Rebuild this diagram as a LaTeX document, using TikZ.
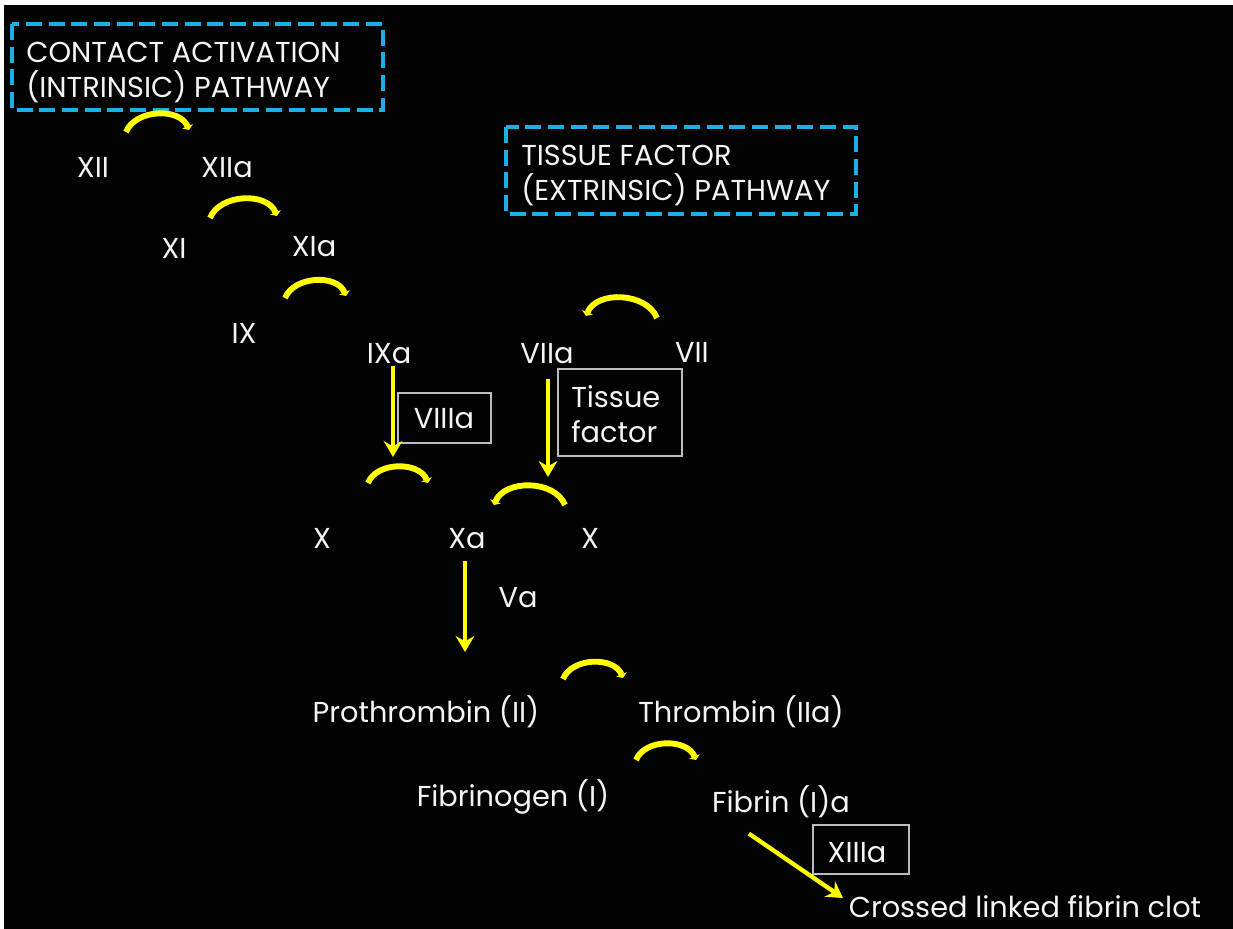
\documentclass[tikz,border=0pt]{standalone}
\usepackage{fontspec}
\setmainfont{Poppins}
\usetikzlibrary{arrows.meta}
\definecolor{bgwhite}{HTML}{FFFFFF}
\definecolor{bgblack}{HTML}{030303}
\definecolor{cyanb}{HTML}{1BB0E6}
\definecolor{yel}{HTML}{FFFF00}
\definecolor{txt}{HTML}{F4F4F4}
\definecolor{gbord}{HTML}{BDBDBD}
\tikzset{
  lbl/.style={text=txt, inner sep=0pt, font=\fontsize{21.6}{26}\selectfont},
  dbox/.style={draw=cyanb, line width=3.6pt, dash pattern=on 12pt off 5pt},
  gbox/.style={draw=gbord, line width=0.9pt},
  yarc/.style={draw=yel, line width=4.4pt, -{Triangle[length=3pt,width=8.5pt]}},
  yarr/.style={draw=yel, line width=3.2pt, -{Stealth[length=12pt,width=14pt,inset=4pt]}},
}
\begin{document}
\begin{tikzpicture}[x=0.75pt,y=-0.75pt]
\fill[bgwhite] (0,0) rectangle (1233,929);
\fill[bgblack] (4,5) rectangle (1233,929);
\useasboundingbox (0,0) rectangle (1233,929);

% dashed pathway boxes
\draw[dbox] (12,24) rectangle (383,110);
\node[lbl, anchor=base west] (ca1) at (26,62) {CONTACT ACTIVATION};
\node[lbl, anchor=base west] (ca2) at (26,97) {(INTRINSIC) PATHWAY};
\draw[dbox] (506,127) rectangle (856,214);
\node[lbl, anchor=base west] (tf1) at (521,165) {TISSUE FACTOR};
\node[lbl, anchor=base west] (tf2) at (521,200) {(EXTRINSIC) PATHWAY};

% factor labels
\node[lbl, anchor=base] (xii) at (93,177) {XII};
\node[lbl, anchor=base] (xiia) at (227,177) {XIIa};
\node[lbl, anchor=base] (xi) at (174,258) {XI};
\node[lbl, anchor=base] (xia) at (314,256) {XIa};
\node[lbl, anchor=base] (ix) at (244,343) {IX};
\node[lbl, anchor=base] (ixa) at (389,363) {IXa};
\node[lbl, anchor=base] (viia) at (547,363) {VIIa};
\node[lbl, anchor=base] (vii) at (692,362) {VII};
\node[lbl, anchor=base] (xl) at (322,548) {X};
\node[lbl, anchor=base] (xa) at (467,548) {Xa};
\node[lbl, anchor=base] (xr) at (590,548) {X};
\node[lbl, anchor=base] (va) at (518,607) {Va};
\node[lbl, anchor=base] (pro) at (426,722) {Prothrombin (II)};
\node[lbl, anchor=base] (thr) at (741,722) {Thrombin (IIa)};
\node[lbl, anchor=base] (fbg) at (513,806) {Fibrinogen (I)};
\node[lbl, anchor=base] (fib) at (781,812) {Fibrin (I)a};
\node[lbl, anchor=base] (clot) at (1025,917) {Crossed linked fibrin clot};

% grey boxes
\draw[gbox] (398,393) rectangle (491,443);
\node[lbl, anchor=base] (viiia) at (444,428) {VIIIa};
\draw[gbox] (558,369) rectangle (682,456);
\node[lbl, anchor=base west] (tis) at (571,407) {Tissue};
\node[lbl, anchor=base west] (fac) at (571,442) {factor};
\draw[gbox] (813,825) rectangle (909,874);
\node[lbl, anchor=base] (xiiia) at (857,862) {XIIIa};

% arc end points
\coordinate (a1s) at (126,132);
\coordinate (a1e) at (189,130);
\coordinate (a2s) at (210,218);
\coordinate (a2e) at (277,216);
\coordinate (a3s) at (285,298);
\coordinate (a3e) at (346,296);
\coordinate (a4s) at (657,318);
\coordinate (a4e) at (586,316);
\coordinate (a5s) at (368,483);
\coordinate (a5e) at (428,483);
\coordinate (a6s) at (565,505);
\coordinate (a6e) at (494,505);
\coordinate (a7s) at (563,679);
\coordinate (a7e) at (623,678);
\coordinate (a8s) at (636,760);
\coordinate (a8e) at (696,760);

\draw[yarc] (a1s) to[out=68,in=112] (a1e);
\draw[yarc] (a2s) to[out=68,in=112] (a2e);
\draw[yarc] (a3s) to[out=68,in=112] (a3e);
\draw[yarc] (a4s) to[out=112,in=68] (a4e);
\draw[yarc] (a5s) to[out=68,in=112] (a5e);
\draw[yarc] (a6s) to[out=112,in=68] (a6e);
\draw[yarc] (a7s) to[out=68,in=112] (a7e);
\draw[yarc] (a8s) to[out=68,in=112] (a8e);

% straight arrows
\coordinate (t1) at (393,457);
\coordinate (t2) at (548,477);
\coordinate (t3) at (465,652);
\coordinate (t4) at (843,898);
\draw[yarr] (ixa.south -| t1) ++(0,2) -- (t1);
\draw[yarr] (viia.south -| t2) ++(0,15) -- (t2);
\draw[yarr] (xa.south -| t3) ++(0,12) -- (t3);
\draw[yarr] (fib.south west) ++(37,16) -- (t4);
\end{tikzpicture}
\end{document}
